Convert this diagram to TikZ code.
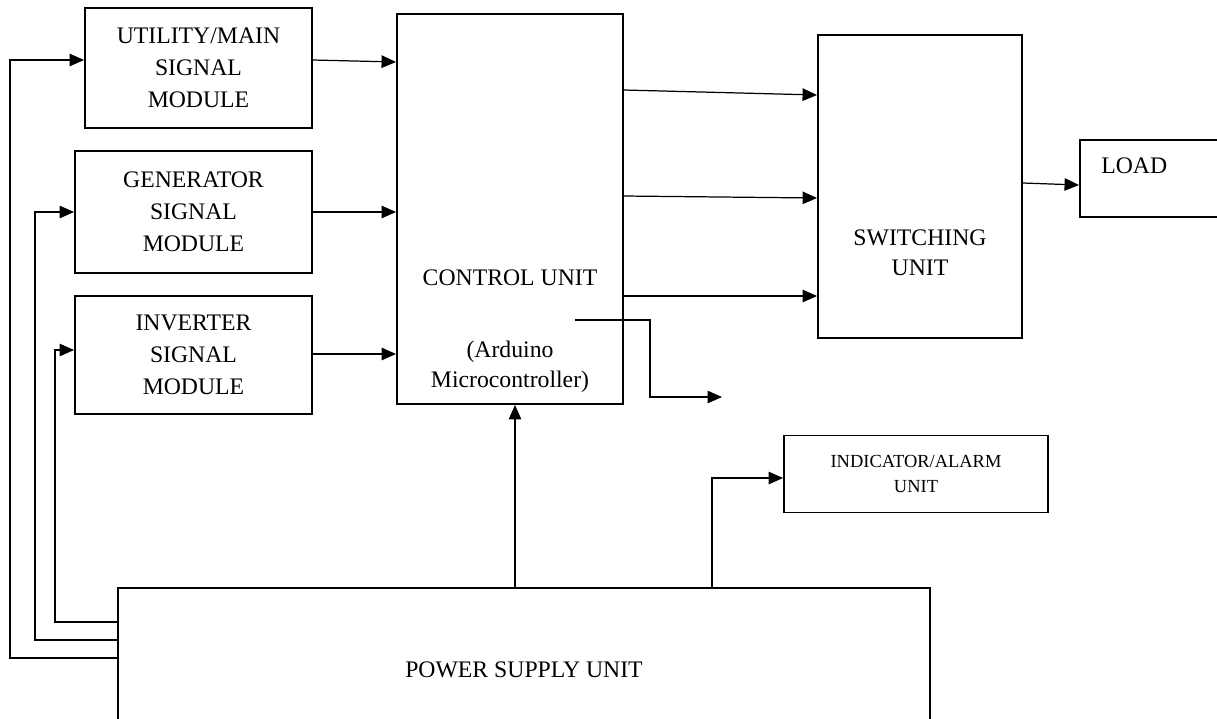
\documentclass[tikz,border=0pt]{standalone}
\usepackage{fontspec}
\setmainfont{Liberation Serif}
\usetikzlibrary{arrows.meta,positioning}
\definecolor{fg}{rgb}{0,0,0}
\tikzstyle{box}=[draw, line width=1.1pt, anchor=center, align=center,
text=fg, font=\fontsize{13.5}{18.2}\selectfont]
\tikzstyle{smallbox}=[box, font=\fontsize{10.5}{14}\selectfont]
\tikzstyle{txt}=[align=center, text=fg, inner sep=0pt, font=\fontsize{13.5}{17}\selectfont]
\tikzstyle{myarrow}=[-{Triangle[length=2.9mm,width=2.5mm]}, line width=0.7pt]

\begin{document}
\begin{tikzpicture}[x=0.02cm, y=-0.02cm]

    \useasboundingbox (0,0) rectangle (1217,718);
    \clip (0,0) rectangle (1217,718);

    % signal modules
    \node[box, minimum width=4.54cm, minimum height=2.4cm] (util) at (198.5,68) {UTILITY/MAIN\\SIGNAL\\MODULE};
    \node[box, minimum width=4.74cm, minimum height=2.44cm] (gen) at (193.5,212) {GENERATOR\\SIGNAL\\MODULE};
    \node[box, minimum width=4.74cm, minimum height=2.36cm] (inv) at (193.5,355) {INVERTER\\SIGNAL\\MODULE};

    % control unit
    \node[box, minimum width=4.52cm, minimum height=7.8cm] (ctrl) at (510,209) {};
    \node[txt] (ctrltxt) at (510,331) {CONTROL UNIT\\[0.85cm](Arduino\\Microcontroller)};

    % switching unit and load
    \node[box, minimum width=4.08cm, minimum height=6.06cm] (sw) at (920,186.5) {};
    \node[txt] (swtxt) at (920,253) {SWITCHING\\UNIT};
    \node[box, minimum width=3.2cm, minimum height=1.54cm] (load) at (1160,178.5) {};
    \node[txt, anchor=west] (loadtxt) at (1101,166) {LOAD};

    % indicator and power supply
    \node[smallbox, minimum width=5.28cm, minimum height=1.54cm] (ind) at (916,474) {INDICATOR/ALARM\\UNIT};
    \node[box, minimum width=16.24cm, minimum height=3.28cm] (psu) at (524,670) {POWER SUPPLY UNIT};

    \draw[myarrow] (util.east |- 0,60) -- (ctrl.west |- 0,62) ;
    \draw[myarrow] (gen.east |- 0,212) -- (ctrl.west |- 0,212) ;
    \draw[myarrow] (inv.east |- 0,354) -- (ctrl.west |- 0,354) ;

    \draw[myarrow] (ctrl.east |- 0,90) -- (sw.west |- 0,95) ;
    \draw[myarrow] (ctrl.east |- 0,196) -- (sw.west |- 0,198) ;
    \draw[myarrow] (ctrl.east |- 0,296) -- (sw.west |- 0,296) ;
    \draw[myarrow] (sw.east |- 0,183) -- (load.west |- 0,185) ;

    \coordinate (ardin) at (575,320);
    \coordinate (ardout) at (722,397);
    \draw[myarrow] (ardin) -- ++(75,0) |- (ardout) ;

    \draw[myarrow] (psu.north -| 515,0) -- (ctrl.south -| 515,0) ;
    \draw[myarrow] (psu.north -| 712,0) |- (ind.west |- 0,478) ;

    \draw[myarrow] (psu.west |- 0,658) -- (10,658) |- (util.west |- 0,60) ;
    \draw[myarrow] (psu.west |- 0,640) -- (35,640) |- (gen.west |- 0,212) ;
    \draw[myarrow] (psu.west |- 0,622) -- (55,622) |- (inv.west |- 0,350) ;

\end{tikzpicture}
\end{document}
